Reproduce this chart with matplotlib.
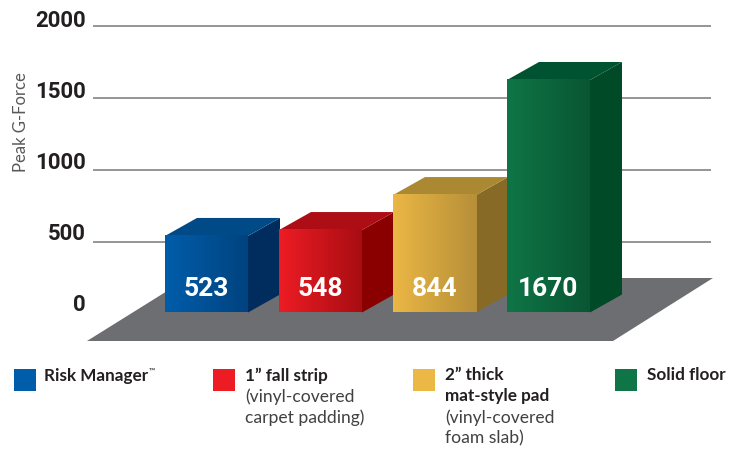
import numpy as np
import matplotlib
matplotlib.use('Agg')
import matplotlib.pyplot as plt
from matplotlib.colors import LinearSegmentedColormap
from matplotlib.patches import Polygon, Rectangle

# printed values and the heights the bars really have against the gridlines
bar_labels = ['523', '548', '844', '1670']
bar_heights = [542, 583, 826, 1625]
grid_values = [500, 1000, 1500, 2000]
tick_values = [0, 500, 1000, 1500, 2000]

face_left = ['#005daa', '#ed1c24', '#ebb745', '#0f7547']
face_right = ['#00437f', '#a80d12', '#b68f38', '#095632']
side_colors = ['#002d5e', '#8a0000', '#876a25', '#004a27']
top_colors = ['#004b87', '#ad0d14', '#ab8932', '#005330']

legend_colors = ['#005daa', '#ed1c24', '#ebb745', '#0f7547']
legend_bold = [['Risk Manager'], ['1” fall strip'], ['2” thick', 'mat-style pad'], ['Solid floor']]
legend_light = [[], ['(vinyl-covered', 'carpet padding)'], ['(vinyl-covered', 'foam slab)'], []]

W, H = 739, 449
PER_UNIT = 0.144     # pixels per g
ZERO_Y = 314         # pixel row of g = 0
SLOT = 114           # pixels from bar to bar
FIRST_BAR = 165

DARK = '#231f20'
NUM_FONT = dict(family=['Roboto', 'DejaVu Sans'], weight='bold')
TXT_FONT = ['Lato', 'DejaVu Sans']


def px(x):
    return (x - FIRST_BAR) / SLOT


def py(y):
    return (ZERO_Y - y) / PER_UNIT


fig = plt.figure(figsize=(W / 100, H / 100), dpi=100)
ax = fig.add_axes([0, 0, 1, 1])

# gridlines
for v in grid_values:
    ax.plot([px(93), px(711)], [v, v], color='#77787b', lw=1.1, zorder=1, solid_capstyle='butt')

# floor
ax.add_patch(Polygon([(px(87), py(341)), (px(613), py(341)), (px(713), py(278)), (px(188), py(278))],
                     closed=True, fc='#6d6e71', ec='none', zorder=2))

# bars, left to right so each covers the side of the one before
base = py(312.5)
bar_w = 83 / SLOT
dx = 32 / SLOT
dy = 18 / PER_UNIT
for i, h in enumerate(bar_heights):
    z = 3 + i
    l, r = i, i + bar_w
    ax.add_patch(Polygon([(r, base), (r + dx, base + dy), (r + dx, h + dy), (r, h)],
                         closed=True, fc=side_colors[i], ec='none', zorder=z))
    ax.add_patch(Polygon([(l, h), (r, h), (r + dx, h + dy), (l + dx, h + dy)],
                         closed=True, fc=top_colors[i], ec='none', zorder=z))
    cmap = LinearSegmentedColormap.from_list('face', [face_left[i], face_right[i]])
    ax.imshow(np.linspace(0, 1, 128).reshape(1, -1), cmap=cmap, aspect='auto',
              extent=(l, r, base, h), zorder=z + 0.5)
    ax.text(l + bar_w / 2, py(289), bar_labels[i], color='white', fontsize=19, ha='center',
            va='center', zorder=10, **NUM_FONT)

# tick labels sit a little above their gridlines
for k, v in enumerate(tick_values):
    ax.text(px(86), py(305 - 71 * k), str(v), color=DARK, fontsize=16, ha='right', va='center', **NUM_FONT)

ax.text(px(21), py(122), 'Peak G-Force', color='#58595b', fontsize=12, rotation=90,
        ha='center', va='center', family=TXT_FONT)

# legend
swatch_x = [14, 213, 413, 615]
text_x = [44, 245, 445, 647]
for i, c in enumerate(legend_colors):
    ax.add_patch(Rectangle((px(swatch_x[i]), py(391)), 22 / SLOT, 22 / PER_UNIT, fc=c, ec='none'))
    row = 0
    for s in legend_bold[i]:
        ax.text(px(text_x[i]), py(375.5 + 21 * row), s, color=DARK, fontsize=12.3, weight='bold',
                family=TXT_FONT, va='center')
        row += 1
    for s in legend_light[i]:
        ax.text(px(text_x[i]), py(375.5 + 21 * row), s, color='#414042', fontsize=12.6,
                family=TXT_FONT, va='center')
        row += 1

ax.text(px(149), py(371), '™', color=DARK, fontsize=6, family=TXT_FONT, va='center')

ax.set_xlim(px(0), px(W))
ax.set_ylim(py(H), py(0))
ax.axis('off')

fig.savefig('out.png', dpi=100)
